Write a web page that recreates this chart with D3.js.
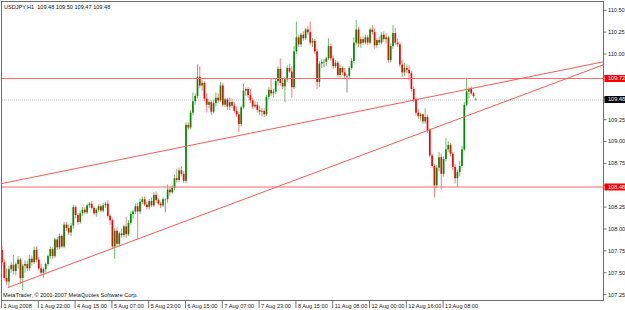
<!DOCTYPE html>
<html><head><meta charset="utf-8">
<script src="https://cdn.jsdelivr.net/npm/d3@7"></script>
<style>html,body{margin:0;padding:0;background:#fff;overflow:hidden}svg{display:block}</style>
</head><body>
<svg id="c" width="625" height="310"></svg>
<script>
const titleText = "USDJPY,H1  109.48 109.50 109.47 109.48";
const copyrightText = "MetaTrader, \u00A9 2001-2007 MetaQuotes Software Corp.";

const open = [107.76,107.62,107.44,107.40,107.54,107.59,107.52,107.60,107.65,107.44,107.58,107.60,107.55,107.66,107.62,107.76,107.65,107.55,107.50,107.54,107.60,107.69,107.77,107.69,107.88,107.79,107.92,107.80,108.05,108.01,107.96,108.04,108.25,108.16,108.08,108.18,108.22,108.19,108.27,108.29,108.24,108.18,108.22,108.26,108.21,108.27,108.29,108.15,108.10,107.80,107.98,107.83,107.95,107.93,108.03,107.94,108.07,108.17,108.20,108.26,108.20,108.31,108.34,108.28,108.25,108.32,108.27,108.39,108.33,108.29,108.27,108.34,108.34,108.45,108.42,108.47,108.58,108.56,108.67,108.63,108.55,109.19,109.16,109.33,109.46,109.52,109.74,109.64,109.67,109.49,109.42,109.45,109.34,109.44,109.50,109.47,109.64,109.42,109.48,109.40,109.45,109.41,109.35,109.31,109.20,109.39,109.58,109.60,109.53,109.47,109.40,109.42,109.36,109.34,109.35,109.31,109.51,109.59,109.55,109.57,109.69,109.83,109.67,109.63,109.71,109.84,109.80,109.62,110.03,110.19,110.11,110.22,110.18,110.28,110.25,110.13,110.15,110.03,109.68,109.89,109.91,109.91,109.95,110.09,109.95,109.86,109.90,109.76,109.84,109.79,109.75,109.75,109.84,109.92,110.13,110.28,110.12,110.17,110.13,110.19,110.13,110.28,110.25,110.10,110.16,110.13,110.22,110.17,110.19,109.93,110.09,110.24,110.13,110.11,109.88,109.79,109.84,109.82,109.78,109.60,109.48,109.33,109.29,109.31,109.23,109.28,109.13,108.84,108.72,108.50,108.70,108.82,108.63,108.80,108.91,108.96,108.86,108.71,108.58,108.65,108.72,108.91,109.42,109.57,109.60,109.55,109.48];
const high = [107.81,107.65,107.55,107.58,107.62,107.70,107.62,107.69,107.67,107.60,107.64,107.64,107.70,107.70,107.80,107.80,107.68,107.60,107.56,107.62,107.71,107.80,107.79,107.90,107.91,107.95,107.94,108.08,108.08,108.05,108.07,108.28,108.27,108.18,108.21,108.25,108.25,108.29,108.31,108.32,108.26,108.24,108.28,108.28,108.30,108.31,108.33,108.17,108.12,108.01,108.02,107.97,108.00,108.05,108.14,108.10,108.20,108.22,108.29,108.30,108.35,108.37,108.37,108.31,108.34,108.36,108.42,108.43,108.35,108.31,108.36,108.35,108.51,108.48,108.50,108.62,108.69,108.70,108.72,108.66,109.22,109.22,109.36,109.56,109.55,109.88,109.86,109.70,109.69,109.55,109.48,109.47,109.48,109.56,109.55,109.68,109.67,109.50,109.50,109.50,109.49,109.45,109.40,109.34,109.41,109.66,109.62,109.62,109.60,109.50,109.46,109.45,109.41,109.38,109.38,109.53,109.62,109.72,109.60,109.72,109.86,109.95,109.72,109.74,109.87,109.89,109.86,110.09,110.37,110.22,110.24,110.26,110.30,110.32,110.37,110.18,110.17,110.06,109.92,109.94,109.94,109.97,110.18,110.12,109.98,109.93,109.92,109.88,109.86,109.84,109.77,109.86,109.95,110.19,110.39,110.31,110.20,110.20,110.22,110.22,110.30,110.33,110.29,110.18,110.20,110.25,110.26,110.24,110.21,110.12,110.33,110.30,110.18,110.14,109.93,109.90,109.88,109.87,109.81,109.63,109.50,109.37,109.33,109.32,109.38,109.31,109.15,108.86,108.74,108.73,108.88,108.86,108.83,109.04,109.00,108.98,108.88,108.74,108.68,108.78,108.95,109.45,109.73,109.62,109.63,109.57,109.50];
const low = [107.58,107.41,107.36,107.33,107.50,107.48,107.47,107.55,107.37,107.30,107.50,107.52,107.52,107.58,107.60,107.62,107.53,107.47,107.44,107.50,107.58,107.66,107.66,107.67,107.76,107.77,107.78,107.78,107.98,107.93,107.92,108.00,108.12,108.05,108.06,108.15,108.17,108.17,108.24,108.22,108.16,108.14,108.20,108.19,108.19,108.24,108.13,108.05,107.78,107.66,107.80,107.80,107.90,107.91,107.90,107.92,108.05,108.12,108.17,107.88,108.17,108.28,108.26,108.22,108.22,108.25,108.25,108.30,108.27,108.24,108.25,108.19,108.30,108.38,108.40,108.44,108.53,108.54,108.60,108.53,108.52,109.13,109.14,109.30,109.42,109.49,109.61,109.58,109.46,109.33,109.38,109.30,109.32,109.40,109.44,109.45,109.40,109.39,109.36,109.36,109.38,109.33,109.28,109.11,109.17,109.37,109.52,109.50,109.44,109.37,109.38,109.33,109.30,109.29,109.28,109.29,109.48,109.52,109.50,109.54,109.64,109.64,109.60,109.45,109.68,109.78,109.50,109.60,110.00,110.08,110.08,110.15,110.16,110.22,110.10,110.08,110.00,109.60,109.62,109.84,109.85,109.86,109.93,109.92,109.83,109.84,109.73,109.73,109.76,109.72,109.56,109.71,109.82,109.90,110.10,110.08,110.07,110.10,110.11,110.10,110.11,110.22,110.06,110.07,110.10,110.11,110.14,110.12,109.90,109.90,110.06,110.10,110.08,109.85,109.74,109.75,109.78,109.70,109.57,109.45,109.30,109.26,109.24,109.20,109.20,109.10,108.82,108.70,108.36,108.47,108.66,108.45,108.60,108.77,108.88,108.83,108.67,108.52,108.48,108.60,108.70,108.89,109.40,109.49,109.53,109.50,109.47];
const close = [107.62,107.44,107.40,107.54,107.59,107.52,107.60,107.65,107.44,107.58,107.60,107.55,107.66,107.62,107.76,107.65,107.55,107.50,107.54,107.60,107.69,107.77,107.69,107.88,107.79,107.92,107.80,108.05,108.01,107.96,108.04,108.25,108.16,108.08,108.18,108.22,108.19,108.27,108.29,108.24,108.18,108.22,108.26,108.21,108.27,108.29,108.15,108.10,107.80,107.98,107.83,107.95,107.93,108.03,107.94,108.07,108.17,108.20,108.26,108.20,108.31,108.34,108.28,108.25,108.32,108.27,108.39,108.33,108.29,108.27,108.34,108.34,108.45,108.42,108.47,108.58,108.56,108.67,108.63,108.55,109.19,109.16,109.33,109.46,109.52,109.74,109.64,109.67,109.49,109.42,109.45,109.34,109.44,109.50,109.47,109.64,109.42,109.48,109.40,109.45,109.41,109.35,109.31,109.20,109.39,109.58,109.60,109.53,109.47,109.40,109.42,109.36,109.34,109.35,109.31,109.51,109.59,109.55,109.57,109.69,109.83,109.67,109.63,109.71,109.84,109.80,109.62,110.03,110.19,110.11,110.22,110.18,110.28,110.25,110.13,110.15,110.03,109.68,109.89,109.91,109.91,109.95,110.09,109.95,109.86,109.90,109.76,109.84,109.79,109.75,109.75,109.84,109.92,110.13,110.28,110.12,110.17,110.13,110.19,110.13,110.28,110.25,110.10,110.16,110.13,110.22,110.17,110.19,109.93,110.09,110.24,110.13,110.11,109.88,109.79,109.84,109.82,109.78,109.60,109.48,109.33,109.29,109.31,109.23,109.28,109.13,108.84,108.72,108.50,108.70,108.82,108.63,108.80,108.91,108.96,108.86,108.71,108.58,108.65,108.72,108.91,109.42,109.57,109.60,109.55,109.52,109.48];

const timeTickBars = [0,16,32,48,64,80,96,112,128,144,160,176,192];
const timeTickLabels = ["1 Aug 2008","1 Aug 22:00","4 Aug 15:00","5 Aug 07:00","5 Aug 23:00","6 Aug 15:00","7 Aug 07:00","7 Aug 23:00","8 Aug 15:00","11 Aug 08:00","12 Aug 00:00","12 Aug 16:00","13 Aug 08:00"];
const priceTicks = [110.50,110.25,110.00,109.75,109.50,109.25,109.00,108.75,108.50,108.25,108.00,107.75,107.50,107.25];
const levelLines = [109.72,108.48];
const bidPrice = 109.48;
const trendUpperBars = [0,261.3], trendUpperPrices = [108.52,109.91];
const trendLowerBars = [2.5,261.3], trendLowerPrices = [107.33,109.875];

const svg = d3.select("#c");
const L = 2, R = 603, T = 2, B = 300;
const x = d3.scaleLinear().domain([0, 261.3]).range([L, R]);
const y = d3.scaleLinear().domain([107.25, 110.5]).range([294.6, 10.25]);
const FONT = "'Liberation Sans', Arial, sans-serif";
const FS = 5.6;
const fmt = d3.format(".2f");
const UP = "#008c00", DOWN = "#ff0000", DOJI = "#8c8c8c";
const UPW = "#6cbf6c", DOWNW = "#ff7a7a";

svg.append("rect").attr("width",625).attr("height",310).attr("fill","#fff");
svg.append("defs").append("clipPath").attr("id","clip")
  .append("rect").attr("x",L).attr("y",T).attr("width",R-L).attr("height",B-T);
const plot = svg.append("g").attr("clip-path","url(#clip)");

// bid line
plot.append("line").attr("x1",L).attr("x2",R).attr("y1",y(bidPrice)+0.5).attr("y2",y(bidPrice)+0.5)
  .attr("stroke","#bdbdbd").attr("stroke-width",0.9).attr("stroke-dasharray","1,1");

const idx = d3.range(open.length);
const col = i => close[i] > open[i] ? UP : (close[i] < open[i] ? DOWN : DOJI);
const wcol = i => close[i] > open[i] ? UPW : (close[i] < open[i] ? DOWNW : DOJI);

plot.append("g").selectAll("line").data(idx).join("line")
  .attr("x1", i => x(i)).attr("x2", i => x(i))
  .attr("y1", i => y(high[i])).attr("y2", i => y(low[i]))
  .attr("stroke", wcol).attr("stroke-width", 1);
plot.append("g").selectAll("rect").data(idx).join("rect")
  .attr("x", i => x(i) - 0.85).attr("width", 1.7)
  .attr("y", i => y(Math.max(open[i], close[i])))
  .attr("height", i => Math.max(0.9, Math.abs(y(open[i]) - y(close[i]))))
  .attr("fill", col);

// horizontal level lines
plot.append("g").selectAll("line").data(levelLines).join("line")
  .attr("x1",L).attr("x2",R).attr("y1",d=>y(d)).attr("y2",d=>y(d))
  .attr("stroke","#ff6a6a").attr("stroke-width",1.1);

// trend lines
const lineGen = d3.line().x(d=>x(d[0])).y(d=>y(d[1]));
[[trendUpperBars,trendUpperPrices],[trendLowerBars,trendLowerPrices]].forEach(([b,p]) => {
  plot.append("path").attr("d", lineGen(b.map((v,k)=>[v,p[k]])))
    .attr("fill","none").attr("stroke","#ff5a5a").attr("stroke-width",1);
});

// frame
svg.append("rect").attr("x",L-0.5).attr("y",T-0.5).attr("width",R-L+1).attr("height",B-T+1)
  .attr("fill","none").attr("stroke","#6e6e6e").attr("stroke-width",1);

// price axis (labels hidden where a level/bid box covers them, as in the terminal)
const boxPrices = levelLines.concat([bidPrice]);
const covered = p => boxPrices.some(b => Math.abs(y(b) - y(p)) < 7);
const pa = svg.append("g");
pa.selectAll("line").data(priceTicks).join("line")
  .attr("x1",R+0.5).attr("x2",R+3.5).attr("y1",d=>y(d)).attr("y2",d=>y(d))
  .attr("stroke","#555").attr("stroke-width",0.8);
pa.selectAll("text").data(priceTicks.filter(p => !covered(p))).join("text")
  .attr("x",R+5).attr("y",d=>y(d)).attr("dy","0.35em")
  .attr("font-family",FONT).attr("font-size",FS).attr("fill","#222")
  .text(d=>fmt(d));

// level labels
const boxes = levelLines.map(p => ({p, fill:"#ff0000"})).concat([{p:bidPrice, fill:"#000"}]);
const bx = svg.append("g").selectAll("g").data(boxes).join("g");
bx.append("rect").attr("x",R+1.5).attr("y",d=>y(d.p)-3.5).attr("width",22).attr("height",7)
  .attr("fill",d=>d.fill);
bx.append("text").attr("x",R+5).attr("y",d=>y(d.p)).attr("dy","0.35em")
  .attr("font-family",FONT).attr("font-size",FS).attr("fill","#fff").text(d=>fmt(d.p));

// time axis
const ta = svg.append("g");
ta.selectAll("line").data(timeTickBars).join("line")
  .attr("x1",d=>x(d)-0.5).attr("x2",d=>x(d)-0.5).attr("y1",B+1).attr("y2",B+8)
  .attr("stroke","#555").attr("stroke-width",0.8);
ta.selectAll("text").data(timeTickBars).join("text")
  .attr("x",d=>x(d)+1.5).attr("y",307.5)
  .attr("font-family",FONT).attr("font-size",FS).attr("fill","#222")
  .text((d,k)=>timeTickLabels[k]);

// title and copyright
svg.append("text").attr("x",4).attr("y",8.6).attr("font-family",FONT).attr("font-size",FS)
  .attr("fill","#111").attr("xml:space","preserve").style("white-space","pre").text(titleText);
svg.append("text").attr("x",3).attr("y",297.3).attr("font-family",FONT).attr("font-size",FS)
  .attr("fill","#111").text(copyrightText);
</script>
</body></html>
